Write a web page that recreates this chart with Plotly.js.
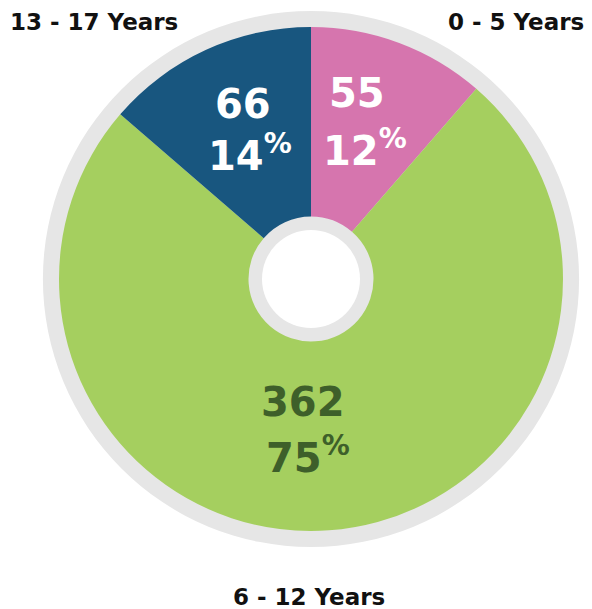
<!DOCTYPE html>
<html>
<head>
<meta charset="utf-8">
<script src="https://cdn.plot.ly/plotly-3.0.1.min.js"></script>
<style>html,body{margin:0;padding:0;background:#fff;}#chart{width:592px;height:609px;}</style>
</head>
<body>
<div id="chart"></div>
<script>
// Data
const categories = ["0 - 5 Years", "6 - 12 Years", "13 - 17 Years"];
const counts = [55, 362, 66];
const percentLabels = ["12%", "75%", "14%"];
const sliceColors = ["#D675AE", "#A5CF5F", "#18567F"];
const valueTextColors = ["#FFFFFF", "#3E5F2A", "#FFFFFF"];

// Geometry (pixels)
const W = 592, H = 609;
const cx = 311, cy = 279;
const rOuter = 268, rPie = 252, rRing = 62.5, rWhite = 49;

function dom(r) {
  return {
    x: [(cx - r) / W, (cx + r) / W],
    y: [(H - cy - r) / H, (H - cy + r) / H]
  };
}

const greyDisk = {
  type: "pie", values: [1], labels: ["bg"], domain: dom(rOuter),
  marker: {colors: ["#E6E6E6"], line: {width: 0}},
  textinfo: "none", hoverinfo: "skip", showlegend: false, sort: false
};
const dataPie = {
  type: "pie", values: counts, labels: categories, domain: dom(rPie),
  hole: rRing / rPie, sort: false, direction: "clockwise", rotation: 0,
  marker: {colors: sliceColors, line: {width: 0}},
  textinfo: "none", hoverinfo: "label+value", showlegend: false
};
const whiteDisk = {
  type: "pie", values: [1], labels: ["hole"], domain: dom(rWhite),
  marker: {colors: ["#FFFFFF"], line: {width: 0}},
  textinfo: "none", hoverinfo: "skip", showlegend: false, sort: false
};

const numFont = {family: "'DejaVu Sans', sans-serif", size: 40, weight: "bold"};
const labFont = {family: "'DejaVu Sans', sans-serif", size: 23, color: "#111111", weight: "bold"};

// text positions (pixels) for each slice
const valuePos = [[357, 93], [303, 402], [243, 104]];
const pctPos = [[365, 148], [308, 455], [250, 153]];
const catPos = [[516, 22], [309, 597], [94, 22]];

const ann = [];
for (let i = 0; i < categories.length; i++) {
  ann.push({xref: "paper", yref: "paper", x: valuePos[i][0] / W, y: 1 - valuePos[i][1] / H,
    text: String(counts[i]), showarrow: false, xanchor: "center", yanchor: "middle",
    font: Object.assign({}, numFont, {color: valueTextColors[i]})});
  const p = percentLabels[i];
  ann.push({xref: "paper", yref: "paper", x: pctPos[i][0] / W, y: 1 - pctPos[i][1] / H,
    text: p.replace("%", "") + "<sup>%</sup>", showarrow: false, xanchor: "center", yanchor: "middle",
    font: Object.assign({}, numFont, {color: valueTextColors[i]})});
  ann.push({xref: "paper", yref: "paper", x: catPos[i][0] / W, y: 1 - catPos[i][1] / H,
    text: categories[i], showarrow: false, xanchor: "center", yanchor: "middle", font: labFont});
}

Plotly.newPlot("chart", [greyDisk, dataPie, whiteDisk], {
  width: W, height: H, margin: {l: 0, r: 0, t: 0, b: 0},
  paper_bgcolor: "#FFFFFF", showlegend: false, annotations: ann
}, {displayModeBar: false, staticPlot: true});
</script>
</body>
</html>
